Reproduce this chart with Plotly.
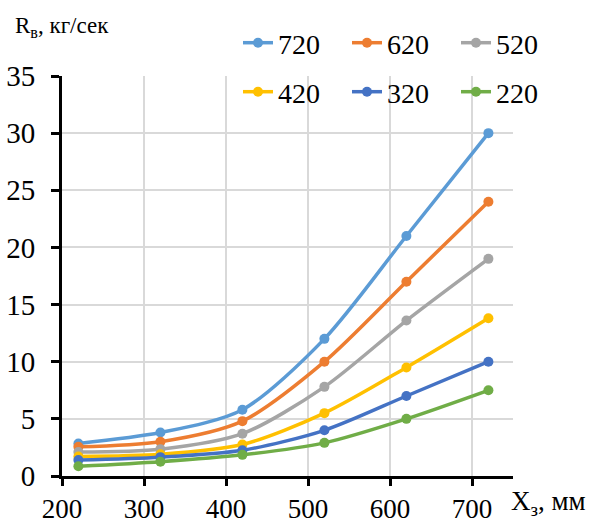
import plotly.graph_objects as go

x_vals = [220, 320, 420, 520, 620, 720]
series_names = ["720", "620", "520", "420", "320", "220"]
s720 = [2.85, 3.8, 5.8, 12.0, 21.0, 30.0]
s620 = [2.55, 3.0, 4.8, 10.0, 17.0, 24.0]
s520 = [2.1, 2.35, 3.7, 7.8, 13.6, 19.0]
s420 = [1.7, 1.9, 2.75, 5.5, 9.5, 13.8]
s320 = [1.4, 1.65, 2.25, 4.0, 7.0, 10.0]
s220 = [0.85, 1.25, 1.85, 2.9, 5.0, 7.5]
series_vals = [s720, s620, s520, s420, s320, s220]
colors = ["#5B9BD5", "#ED7D31", "#A5A5A5", "#FFC000", "#4472C4", "#70AD47"]

x_ticks = [200, 300, 400, 500, 600, 700]
y_ticks = [0, 5, 10, 15, 20, 25, 30, 35]

FONT = "Liberation Serif"
fig = go.Figure()
for i, (name, vals, c) in enumerate(zip(series_names, series_vals, colors)):
    fig.add_trace(go.Scatter(
        x=x_vals, y=vals, name=name, mode="lines+markers",
        line=dict(color=c, width=3.5, shape="spline", smoothing=0.8),
        marker=dict(color=c, size=10),
        legend="legend" if i < 3 else "legend2",
    ))

legend_common = dict(
    orientation="h", bgcolor="rgba(0,0,0,0)",
    font=dict(family=FONT, size=28, color="black"),
    entrywidth=64, entrywidthmode="pixels",
    xref="container", yref="container", xanchor="left", yanchor="middle",
    itemwidth=30, tracegroupgap=0,
)

fig.update_layout(
    width=592, height=522,
    margin=dict(l=62, r=79, t=76, b=46, autoexpand=False),
    paper_bgcolor="white", plot_bgcolor="white",
    font=dict(family=FONT, size=24, color="black"),
    showlegend=True,
    legend=dict(**legend_common, x=238/592, y=1 - 43/522),
    legend2=dict(**legend_common, x=238/592, y=1 - 92/522),
    xaxis=dict(
        range=[200, 750], tickvals=x_ticks, showgrid=True, gridcolor="#D9D9D9",
        gridwidth=1.5, showline=True, linecolor="black", linewidth=3,
        ticks="outside", ticklen=7, tickwidth=3, tickcolor="black",
        tickfont=dict(family=FONT, size=27), zeroline=False,
    ),
    yaxis=dict(
        range=[0, 35], tickvals=y_ticks, showgrid=True, gridcolor="#D9D9D9",
        gridwidth=1.5, showline=True, linecolor="black", linewidth=3,
        ticks="outside", ticklen=8, tickwidth=3, tickcolor="black",
        tickfont=dict(family=FONT, size=29), zeroline=False,
        ticklabelstandoff=10,
    ),
    annotations=[
        dict(text="R<sub>в</sub>, кг/сек", xref="paper", yref="paper",
             x=-49/451, y=1 + 49/400, xanchor="left", yanchor="middle",
             showarrow=False, font=dict(family=FONT, size=23)),
        dict(text="X<sub>з</sub>, мм", xref="paper", yref="paper",
             x=1 + 75/451, y=-27/400, xanchor="right", yanchor="middle",
             showarrow=False, font=dict(family=FONT, size=27)),
    ],
)

fig.write_html("out.html")
